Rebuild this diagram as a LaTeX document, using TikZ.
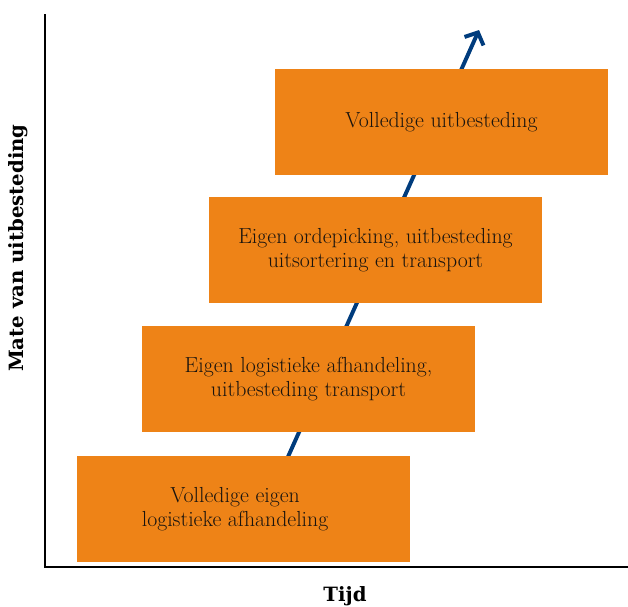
\documentclass[tikz,border=0pt]{standalone}
\usepackage{fontspec}
\newfontfamily\axisfont{DejaVu Serif}
\usepackage{tikz}
\usetikzlibrary{positioning,arrows.meta}

\definecolor{stepOrange}{RGB}{238,131,23}
\definecolor{growBlue}{RGB}{0,60,125}
\definecolor{stepText}{RGB}{25,20,15}

\begin{document}
\begin{tikzpicture}[
    x=0.025cm, y=-0.025cm,
    stepbox/.style ={draw=none, fill=stepOrange, minimum width=8.325cm,
                     minimum height=2.65cm, inner sep=0pt, align=center,
                     text=stepText, font=\fontsize{15.5}{16.8}\selectfont},
    axis/.style    ={line width=1.4pt, black},
    growarr/.style ={-{Straight Barb[length=2.4mm, width=5.2mm]}, line width=2.8pt,
                     growBlue},
    axislab/.style ={font=\axisfont\bfseries\fontsize{14}{16}\selectfont}
  ]
    \useasboundingbox (0,0) rectangle (628,606);

    % --- axes ---
    \draw[axis] (45,14) -- (45,567) -- (628,567);
    \node[axislab, rotate=90] (ylab) at (18,248) {Mate van uitbesteding};
    \node[axislab] (xlab) at (345,596) {Tijd};

    % --- growth arrow (behind the steps) ---
    \coordinate (start) at (270,497);
    \coordinate (tip)   at (479,30);
    \draw[growarr] (start) -- (tip);

    % --- steps ---
    \node[stepbox] (s1) at (243.5,509)
      {Volledige eigen\hspace*{12pt}\\logistieke afhandeling\hspace*{12pt}};
    \node[stepbox] (s2) at (308.5,379) {Eigen logistieke afhandeling,\\uitbesteding transport};
    \node[stepbox] (s3) at (375.5,250) {Eigen ordepicking, uitbesteding\\uitsortering en transport};
    \node[stepbox] (s4) at (441.5,122) {Volledige uitbesteding};
  \end{tikzpicture}
\end{document}
